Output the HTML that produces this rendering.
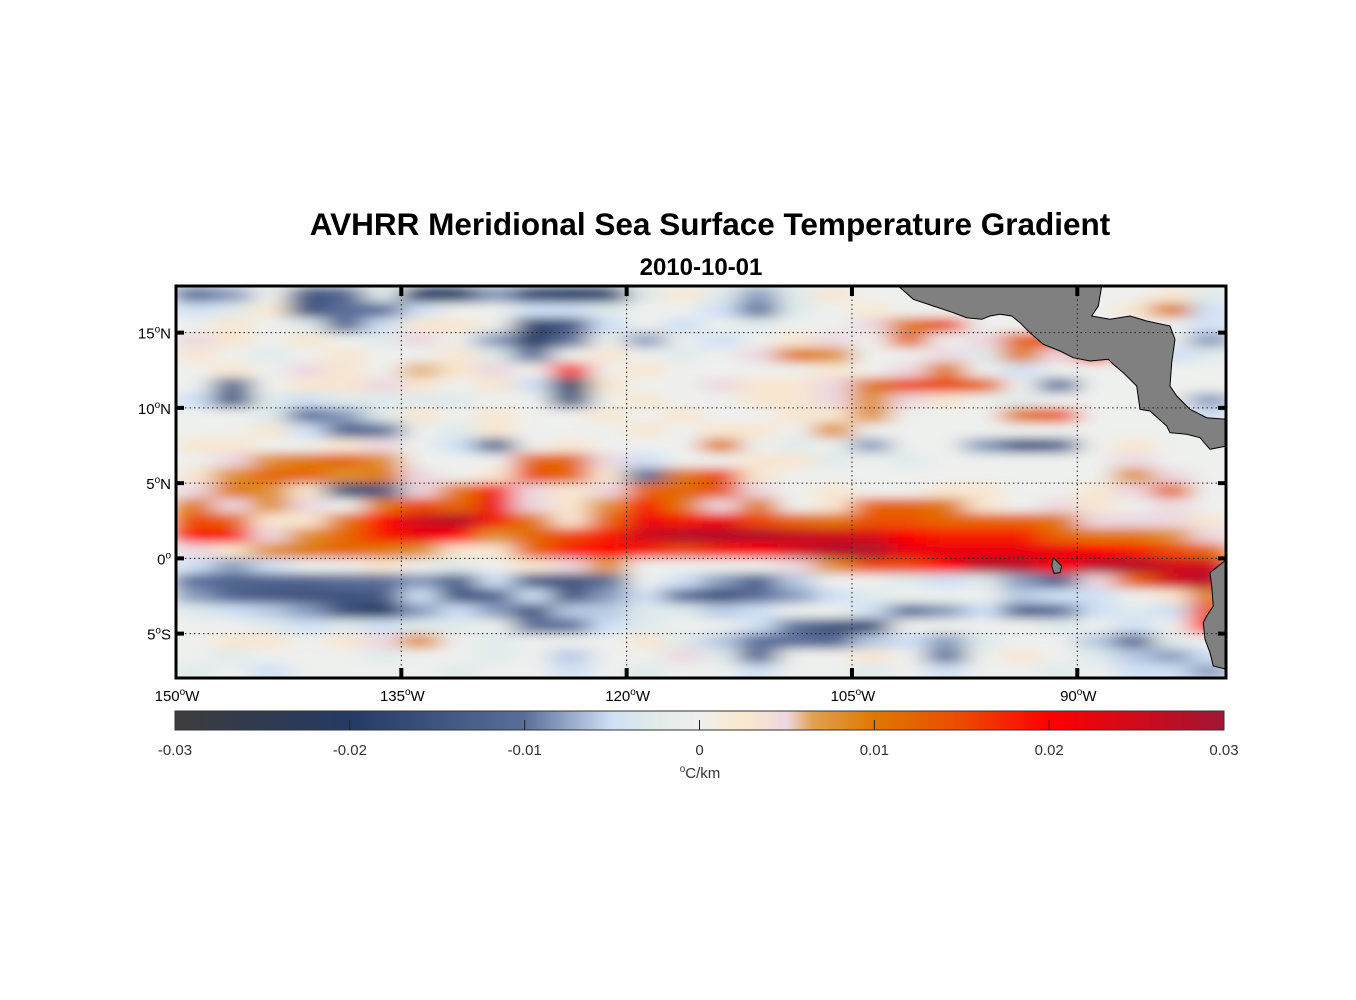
<!DOCTYPE html>
<html><head><meta charset="utf-8"><style>
html,body{margin:0;padding:0;background:#fff;}
svg{display:block;font-family:"Liberation Sans",Arial,sans-serif;}
</style></head><body>
<svg id="chart" width="1356" height="1000" viewBox="0 0 1356 1000">
<defs>
<clipPath id="mapclip"><rect x="176" y="286" width="1050" height="392"/></clipPath>
<filter id="smooth" filterUnits="userSpaceOnUse" x="176" y="286" width="1050" height="392">
<feGaussianBlur stdDeviation="13 5" edgeMode="duplicate"/>
</filter>
<linearGradient id="cbgrad" x1="0" x2="1" y1="0" y2="0">
<stop offset="0" stop-color="#3c3c3c"/>
<stop offset="0.1667" stop-color="#243a64"/>
<stop offset="0.3333" stop-color="#5a6e9a"/>
<stop offset="0.4167" stop-color="#cfe0f5"/>
<stop offset="0.4583" stop-color="#e3ece9"/>
<stop offset="0.5" stop-color="#eef0ee"/>
<stop offset="0.5417" stop-color="#fbe9cc"/>
<stop offset="0.5833" stop-color="#ecd8e0"/>
<stop offset="0.6083" stop-color="#e0a050"/>
<stop offset="0.6667" stop-color="#e07800"/>
<stop offset="0.75" stop-color="#ec4a00"/>
<stop offset="0.8333" stop-color="#ff0000"/>
<stop offset="1" stop-color="#a01535"/>
</linearGradient>
</defs>
<text x="710" y="235" text-anchor="middle" font-size="31.5" font-weight="bold" fill="#000">AVHRR Meridional Sea Surface Temperature Gradient</text>
<text x="701" y="275" text-anchor="middle" font-size="24" font-weight="bold" fill="#000">2010-10-01</text>
<rect x="176" y="286" width="1050" height="392" fill="#eef0ee"/>
<g clip-path="url(#mapclip)"><g id="cells" filter="url(#smooth)"></g></g>
<g clip-path="url(#mapclip)">
<polygon id="camerica" fill="#808080" stroke="#000" stroke-width="1"/>
<polygon id="samerica" fill="#808080" stroke="#000" stroke-width="1"/>
<polygon id="galapagos" fill="#808080" stroke="#000" stroke-width="1"/>
</g>
<g id="grid"></g>
<rect x="176" y="286" width="1050" height="392" fill="none" stroke="#000" stroke-width="3"/>
<g id="axes" font-size="15" fill="#000"></g>
<rect x="175" y="711" width="1049" height="19" fill="url(#cbgrad)" stroke="#333" stroke-width="1"/>
<g id="cbticks" font-size="15" fill="#333"></g>
<text x="700" y="778" text-anchor="middle" font-size="15" fill="#333"><tspan font-size="10" dy="-6">o</tspan><tspan dy="6">C/km</tspan></text>
</svg>
<script>
// grid definition (degrees)
const lonCenters = [-148.75,-146.25,-143.75,-141.25,-138.75,-136.25,-133.75,-131.25,-128.75,-126.25,-123.75,-121.25,-118.75,-116.25,-113.75,-111.25,-108.75,-106.25,-103.75,-101.25,-98.75,-96.25,-93.75,-91.25,-88.75,-86.25,-83.75,-81.25];
const latCenters = [17.5,16.5,15.5,14.5,13.5,12.5,11.5,10.5,9.5,8.5,7.5,6.5,5.5,4.5,3.5,2.5,1.5,0.5,-0.5,-1.5,-2.5,-3.5,-4.5,-5.5,-6.5,-7.5];
// values in 0.001 degC/km, one row per latitude
const gradRows = [
[-10,-8,0,-15,-12,-3,-20,-20,-8,-18,-20,-18,-3,2,-3,-8,-3,3,0,0,0,0,0,0,0,0,3,-3],
[-5,-3,2,-15,-10,-10,-5,0,0,-5,-5,-3,0,0,-5,-10,-3,0,2,0,0,0,0,0,0,3,10,-5],
[0,3,0,-3,-12,-5,3,3,0,-18,-15,-5,0,-5,0,-3,0,0,5,10,15,0,0,0,0,0,0,-5],
[5,3,0,3,0,-3,5,0,-8,-20,-10,0,-8,0,-5,0,3,5,0,12,0,5,12,15,0,0,0,-8],
[3,0,-3,0,3,0,0,3,-3,-10,0,3,0,-3,0,5,10,8,0,0,5,-3,10,5,15,0,-5,-3],
[0,3,0,5,3,0,6,3,5,0,18,0,3,0,0,0,0,3,0,5,10,0,-5,0,0,0,0,0],
[0,-12,0,3,3,5,3,0,3,-5,-20,3,0,0,5,3,3,5,10,15,15,12,0,-10,0,0,0,0],
[-5,-15,-3,-5,-3,-3,-3,-3,0,0,-15,0,3,0,0,3,3,5,8,5,3,0,-3,0,0,0,0,-8],
[0,0,-3,-10,-8,-3,3,0,3,0,0,3,0,3,0,0,3,3,8,0,0,0,10,14,0,0,0,-5],
[0,0,3,-5,-12,-10,0,-3,3,0,0,0,3,0,3,3,0,8,0,0,0,0,0,0,0,0,0,0],
[3,3,0,0,3,5,0,-5,-12,0,3,0,0,0,10,0,-3,0,-8,0,0,-8,-15,-12,0,3,0,0],
[0,5,8,10,12,8,0,0,0,12,12,5,-5,0,0,3,3,-3,0,-3,0,0,0,0,0,5,0,0],
[3,8,12,12,8,10,5,0,3,15,12,3,-10,10,15,3,0,0,0,0,0,0,0,0,0,8,5,0],
[5,10,8,3,-15,-15,5,10,18,5,3,5,12,12,14,5,0,3,0,0,3,3,0,0,3,5,12,0],
[10,5,8,5,0,10,15,12,22,5,3,8,18,10,5,10,0,3,12,12,10,3,0,5,3,0,5,0],
[15,12,3,3,10,20,25,28,18,10,3,12,22,18,22,15,12,10,14,14,12,12,12,10,5,5,5,3],
[18,18,5,8,12,18,22,20,8,12,15,18,25,28,28,28,26,25,24,20,18,18,18,12,10,10,8,5],
[5,3,8,10,12,10,8,3,3,12,18,20,18,15,18,20,24,28,29,22,22,22,22,22,20,18,15,12],
[-5,-8,-5,0,0,3,0,-3,0,3,5,8,0,0,0,0,5,8,15,15,20,28,28,20,28,28,25,25],
[-10,-12,-12,-12,-10,-10,-8,-13,-5,-13,-15,-10,0,-5,-8,-13,-6,0,0,-3,-5,-3,-8,-13,5,12,25,28],
[-8,-12,-14,-15,-15,-14,-5,-15,-12,-5,-15,-8,-5,-10,-16,-10,-8,-5,-3,0,0,0,-6,-5,-5,0,3,10],
[-3,-5,-6,-8,-16,-20,-8,-5,-8,-15,-6,-6,-3,-3,-6,-5,0,0,-5,-10,-8,-5,-12,-10,-5,-3,-5,15],
[0,0,-3,-5,-3,-5,-3,-3,0,-10,-10,-5,-3,0,0,-5,-10,-15,-17,0,0,0,0,-3,0,-5,0,20],
[0,3,3,0,3,5,8,0,-3,0,0,0,3,-3,-6,-10,-10,-12,-6,-5,-8,-3,0,0,-6,-12,-3,0],
[0,-3,0,0,0,-3,0,0,-3,0,-6,0,0,5,-3,-12,0,0,3,0,-10,0,3,0,-3,-6,-8,-5],
[-3,0,-5,0,0,0,0,-3,0,0,-5,0,-3,0,0,-5,0,0,-3,0,-5,0,0,-3,0,-5,-5,-8]
];
const lonTicks = [-150,-135,-120,-105,-90];
const lonTickLabels = ["150","135","120","105","90"];
const latTicks = [15,10,5,0,-5];
const latTickLabels = [["15","N"],["10","N"],["5","N"],["0",""],["5","S"]];
const cbTicks = [-0.03,-0.02,-0.01,0,0.01,0.02,0.03];
const cbTickLabels = ["-0.03","-0.02","-0.01","0","0.01","0.02","0.03"];

const NS = "http://www.w3.org/2000/svg";
const X0 = 176, X1 = 1226, Y0 = 286, Y1 = 678;
const LON0 = -150, LON1 = -80.1, LAT0 = 18.1, LAT1 = -7.95;
function xScale(lon){ return X0 + (lon - LON0) / (LON1 - LON0) * (X1 - X0); }
function yScale(lat){ return Y0 + (LAT0 - lat) / (LAT0 - LAT1) * (Y1 - Y0); }
function cbScale(v){ return 175 + (v + 0.03) / 0.06 * 1049; }

const cmap = [[-30,[60,60,60]],[-20,[36,58,100]],[-10,[90,110,154]],[-5,[207,224,245]],[-2.5,[227,236,233]],[0,[238,240,238]],[2.5,[251,233,204]],[5,[236,216,224]],[6.5,[224,160,80]],[10,[224,120,0]],[15,[236,74,0]],[20,[255,0,0]],[30,[160,21,53]]];
function color(v){
  v = Math.max(-30, Math.min(30, v));
  for (let i = 0; i < cmap.length - 1; i++) {
    const a = cmap[i], b = cmap[i+1];
    if (v <= b[0]) {
      const t = (v - a[0]) / (b[0] - a[0]);
      const c = a[1].map((ch, k) => Math.round(ch + (b[1][k] - ch) * t));
      return "rgb(" + c.join(",") + ")";
    }
  }
  return "rgb(160,21,53)";
}

const cells = document.getElementById("cells");
const dLon = 2.5, dLat = 1;
latCenters.forEach((lat, r) => {
  lonCenters.forEach((lon, c) => {
    const v = gradRows[r][c];
    const rect = document.createElementNS(NS, "rect");
    const x = xScale(lon - dLon/2), y = yScale(lat + dLat/2);
    rect.setAttribute("x", x.toFixed(1));
    rect.setAttribute("y", y.toFixed(1));
    rect.setAttribute("width", (xScale(lon + dLon/2) - x + 0.6).toFixed(1));
    rect.setAttribute("height", (yScale(lat - dLat/2) - y + 0.6).toFixed(1));
    rect.setAttribute("fill", color(v));
    
    
    cells.appendChild(rect);
  });
});

// land polygons (zoom-derived pixel outlines)
function pts(arr, ox, oy){ return arr.map(p => (ox + p[0]/3).toFixed(1) + "," + (oy + p[1]/3).toFixed(1)).join(" "); }
const ca = [[595,0],[640,40],[700,60],[760,80],[800,95],[845,100],[870,90],[900,85],[935,90],[960,110],[990,140],[1030,175],[1080,195],[1120,215],[1170,225],[1225,220],[1240,235],[1270,260],[1310,300],[1320,370],[1350,375],[1400,420],[1410,440],[1460,445],[1500,455],[1530,490],[1580,480],[1580,400],[1520,395],[1470,370],[1430,330],[1410,300],[1415,230],[1425,160],[1410,120],[1340,105],[1290,90],[1230,100],[1175,90],[1195,60],[1205,0]];
document.getElementById("camerica").setAttribute("points", pts(ca, 700, 286));
const sa = [[1580,820],[1530,860],[1535,900],[1540,960],[1520,990],[1510,1010],[1515,1060],[1530,1100],[1540,1140],[1580,1150]];
document.getElementById("samerica").setAttribute("points", pts(sa, 700, 286));
const gal = [[1060,815],[1085,840],[1080,860],[1062,862],[1055,840]];
document.getElementById("galapagos").setAttribute("points", pts(gal, 700, 286));

// graticule
const grid = document.getElementById("grid");
lonTicks.forEach(lon => {
  const x = xScale(lon);
  if (lon > -150) {
    const l = document.createElementNS(NS, "line");
    l.setAttribute("x1", x); l.setAttribute("x2", x); l.setAttribute("y1", Y0); l.setAttribute("y2", Y1);
    l.setAttribute("stroke", "#222"); l.setAttribute("stroke-width", "1"); l.setAttribute("stroke-dasharray", "1.5 3");
    
    
    grid.appendChild(l);
    [[Y0, Y0+10],[Y1-10, Y1]].forEach(s => {
      const t = document.createElementNS(NS, "line");
      t.setAttribute("x1", x); t.setAttribute("x2", x); t.setAttribute("y1", s[0]); t.setAttribute("y2", s[1]);
      t.setAttribute("stroke", "#000"); t.setAttribute("stroke-width", "4");
      
      
      grid.appendChild(t);
    });
  }
});
latTicks.forEach(lat => {
  const y = yScale(lat);
  const l = document.createElementNS(NS, "line");
  l.setAttribute("x1", X0); l.setAttribute("x2", X1); l.setAttribute("y1", y); l.setAttribute("y2", y);
  l.setAttribute("stroke", "#222"); l.setAttribute("stroke-width", "1"); l.setAttribute("stroke-dasharray", "1.5 3");
  
  
  grid.appendChild(l);
  [[X0, X0+8],[X1-8, X1]].forEach(s => {
    const t = document.createElementNS(NS, "line");
    t.setAttribute("x1", s[0]); t.setAttribute("x2", s[1]); t.setAttribute("y1", y); t.setAttribute("y2", y);
    t.setAttribute("stroke", "#000"); t.setAttribute("stroke-width", "4");
    
    
    grid.appendChild(t);
  });
});

// axis labels
const axes = document.getElementById("axes");
function degLabel(parent, x, y, anchor, num, hemi, name){
  const t = document.createElementNS(NS, "text");
  t.setAttribute("x", x); t.setAttribute("y", y); t.setAttribute("text-anchor", anchor);
  const a = document.createElementNS(NS, "tspan"); a.textContent = num;
  const b = document.createElementNS(NS, "tspan"); b.textContent = "o"; b.setAttribute("font-size", "10"); b.setAttribute("dy", "-6");
  const c = document.createElementNS(NS, "tspan"); c.textContent = hemi; c.setAttribute("dy", "6");
  t.appendChild(a); t.appendChild(b); t.appendChild(c);
  
  
  parent.appendChild(t);
}
lonTicks.forEach((lon, i) => degLabel(axes, xScale(lon) + 1, 701, "middle", lonTickLabels[i], "W", "longitude-tick-label"));
latTicks.forEach((lat, i) => degLabel(axes, 171, yScale(lat) + 6, "end", latTickLabels[i][0], latTickLabels[i][1], "latitude-tick-label"));

// colorbar ticks
const cbg = document.getElementById("cbticks");
cbTicks.forEach((v, i) => {
  const x = cbScale(v);
  if (i > 0 && i < cbTicks.length - 1) {
    const t = document.createElementNS(NS, "line");
    t.setAttribute("x1", x); t.setAttribute("x2", x); t.setAttribute("y1", 720); t.setAttribute("y2", 730);
    t.setAttribute("stroke", "#222"); t.setAttribute("stroke-width", "1");
    
    
    cbg.appendChild(t);
  }
  const lab = document.createElementNS(NS, "text");
  lab.setAttribute("x", x); lab.setAttribute("y", 755); lab.setAttribute("text-anchor", "middle");
  lab.textContent = cbTickLabels[i];
  
  
  cbg.appendChild(lab);
});
</script>
</body></html>
